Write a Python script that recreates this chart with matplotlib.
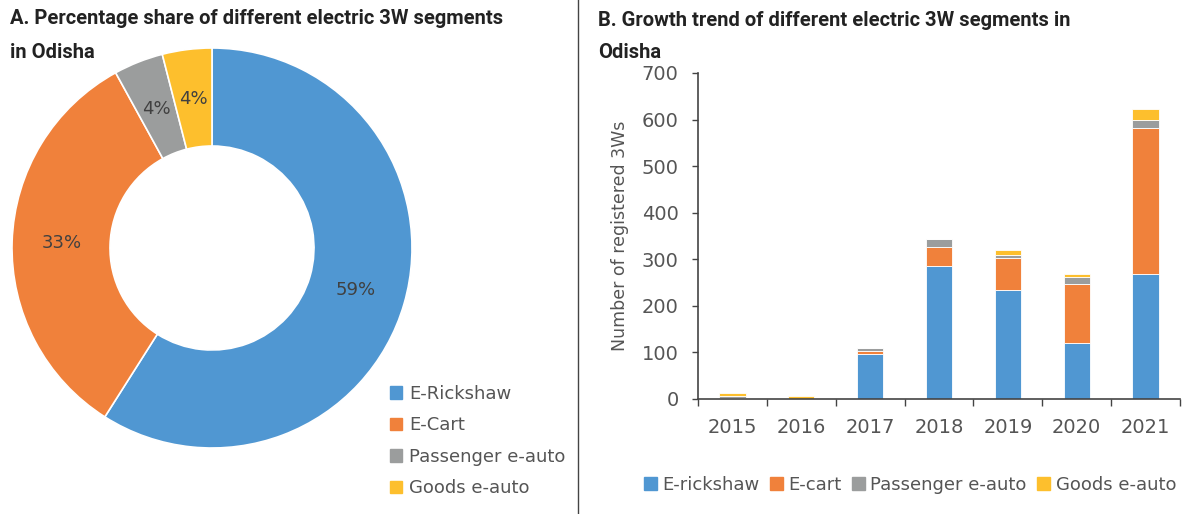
import numpy as np
import matplotlib.pyplot as plt
from matplotlib.lines import Line2D
from matplotlib.patches import Patch

# Panel A: share of segments
segments = ["E-Rickshaw", "E-Cart", "Passenger e-auto", "Goods e-auto"]
shares = [59, 33, 4, 4]

# Panel B: registrations per year
years = ["2015", "2016", "2017", "2018", "2019", "2020", "2021"]
e_rickshaw = [2, 0, 97, 286, 235, 120, 269]
e_cart = [0, 0, 6, 40, 68, 126, 313]
passenger = [4, 0, 6, 18, 6, 16, 17]
goods = [6, 7, 0, 0, 11, 6, 24]
bar_labels = ["E-rickshaw", "E-cart", "Passenger e-auto", "Goods e-auto"]

colors = ["#5097D2", "#F0813B", "#9B9D9D", "#FDBF2D"]
text_col = "#555555"
title_font = ["Roboto", "DejaVu Sans"]

plt.rcParams["font.family"] = ["DejaVu Sans"]

fig = plt.figure(figsize=(11.86, 5.14), dpi=100)

# separator
fig.add_artist(Line2D([578 / 1186, 578 / 1186], [0, 1], color="#444444", lw=1))

# ---- donut ----
ax1 = fig.add_axes([12 / 1186, 66 / 514, 400 / 1186, 400 / 514])
wedges, texts = ax1.pie(
    shares,
    colors=colors,
    startangle=90,
    counterclock=False,
    radius=1,
    wedgeprops=dict(width=0.49, edgecolor="white", linewidth=1.2),
)
for w, s in zip(wedges, shares):
    ang = np.deg2rad((w.theta1 + w.theta2) / 2)
    r = 0.75
    ax1.text(r * np.cos(ang), r * np.sin(ang), f"{s}%", ha="center",
             va="center", fontsize=13, color="#404040")
ax1.set_xlim(-1, 1)
ax1.set_ylim(-1, 1)
ax1.set_aspect("equal")
ax1.axis("off")

fig.text(10 / 1186, 1 - 18 / 514, "A. Percentage share of different electric 3W segments",
         fontsize=14.5, fontweight="bold", family=title_font, color="#222222", va="center")
fig.text(10 / 1186, 1 - 52 / 514, "in Odisha",
         fontsize=14.5, fontweight="bold", family=title_font, color="#222222", va="center")

handles = [Patch(color=c) for c in colors]
fig.legend(handles, segments, loc="upper left", bbox_to_anchor=(386 / 1186, 1 - 381 / 514),
           frameon=False, fontsize=13, labelcolor=text_col, handlelength=0.7,
           handleheight=0.7, handletextpad=0.4, labelspacing=0.75,
           borderaxespad=0, borderpad=0.2)

# ---- stacked bars ----
ax2 = fig.add_axes([698 / 1186, 115 / 514, 482 / 1186, 326 / 514])
x = np.arange(len(years))
bottom = np.zeros(len(years))
series = [e_rickshaw, e_cart, passenger, goods]
for vals, c in zip(series, colors):
    ax2.bar(x, vals, bottom=bottom, width=0.38, color=c, edgecolor="white", linewidth=0.6)
    bottom = bottom + np.array(vals)

ax2.set_xlim(-0.5, len(years) - 0.5)
ax2.set_ylim(0, 700)
ax2.set_yticks(range(0, 701, 100))
ax2.set_xticks(x)
ax2.set_xticklabels(years)
ax2.set_xticks(np.arange(-0.5, len(years), 1), minor=True)
ax2.tick_params(axis="x", which="major", length=0, labelsize=14, labelcolor=text_col, pad=14)
ax2.tick_params(axis="x", which="minor", length=5, color="#444444", width=1)
ax2.tick_params(axis="y", labelsize=14, labelcolor=text_col, length=4, color="#444444",
                width=1, pad=10)
for s in ["top", "right"]:
    ax2.spines[s].set_visible(False)
for s in ["left", "bottom"]:
    ax2.spines[s].set_color("#444444")
    ax2.spines[s].set_linewidth(1.2)
ax2.set_ylabel("Number of registered 3Ws", fontsize=12.5, color=text_col, labelpad=9)

fig.text(598 / 1186, 1 - 20 / 514, "B. Growth trend of different electric 3W segments in",
         fontsize=14.5, fontweight="bold", family=title_font, color="#222222", va="center")
fig.text(598 / 1186, 1 - 52 / 514, "Odisha",
         fontsize=14.5, fontweight="bold", family=title_font, color="#222222", va="center")

fig.legend(handles, bar_labels, loc="center", bbox_to_anchor=(910 / 1186, 1 - 485 / 514),
           ncol=4, frameon=False, fontsize=13, labelcolor=text_col, handlelength=0.7,
           handleheight=0.7, handletextpad=0.3, columnspacing=0.6)

fig.savefig("out.png", dpi=100)
